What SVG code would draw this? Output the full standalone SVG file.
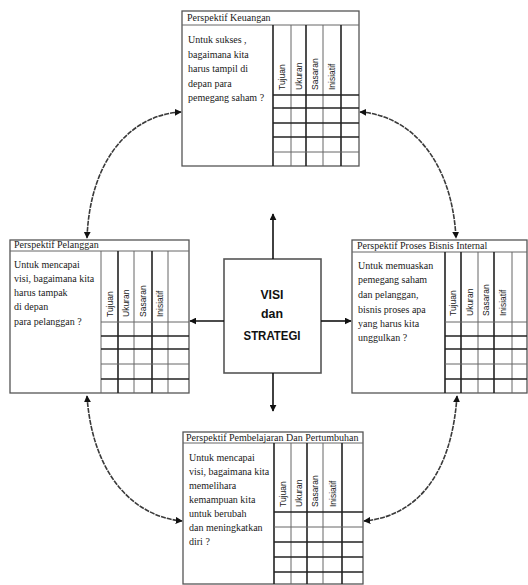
<svg xmlns="http://www.w3.org/2000/svg" width="528" height="585" viewBox="0 0 528 585">
<style>
.box{fill:#fff;stroke:#555;stroke-width:1.3}
.ln{stroke:#666;stroke-width:1}
.lk{stroke:#222;stroke-width:1.6}
.t{font-family:"Liberation Serif","Times New Roman",serif;font-size:10px;fill:#1a1a1a}
.h{font-family:"Liberation Sans",Arial,sans-serif;font-size:8.5px;fill:#1a1a1a}
.c{font-family:"Liberation Sans",Arial,sans-serif;font-weight:bold;font-size:13px;fill:#111;text-anchor:middle}
.cv{fill:none;stroke:#3a3a3a;stroke-width:1.6;stroke-dasharray:5 1;marker-start:url(#ah);marker-end:url(#ah)}
.st{fill:none;stroke:#111;stroke-width:1.6;marker-end:url(#ah)}
</style>
<defs>
<marker id="ah" viewBox="0 0 10 10" refX="9" refY="5" markerWidth="7" markerHeight="7" markerUnits="userSpaceOnUse" orient="auto-start-reverse">
<path d="M0,0 L10,5 L0,10 z" fill="#111"/>
</marker>
</defs>
<rect width="528" height="585" fill="#fff"/>

<g id="keuangan">
<rect class="box" x="182" y="11" width="177" height="155"/>
<line class="ln" x1="182" y1="25" x2="359" y2="25"/>
<text class="t" x="187" y="21">Perspektif Keuangan</text>
<text class="t" x="188" y="43">Untuk sukses ,</text>
<text class="t" x="188" y="57.5">bagaimana kita</text>
<text class="t" x="188" y="72">harus tampil di</text>
<text class="t" x="188" y="86.5">depan para</text>
<text class="t" x="188" y="101">pemegang saham ?</text>
<line class="lk" x1="273" y1="25" x2="273" y2="166"/>
<line class="ln" x1="291" y1="25" x2="291" y2="166"/>
<line class="lk" x1="306" y1="25" x2="306" y2="166"/>
<line class="ln" x1="323" y1="25" x2="323" y2="166"/>
<line class="lk" x1="341" y1="25" x2="341" y2="166"/>
<line class="lk" x1="273" y1="95" x2="359" y2="95"/>
<line class="lk" x1="273" y1="108" x2="359" y2="108"/>
<line class="lk" x1="273" y1="123" x2="359" y2="123"/>
<line class="lk" x1="273" y1="137" x2="359" y2="137"/>
<line class="ln" x1="273" y1="152" x2="359" y2="152"/>
<text class="h" transform="translate(285,90) rotate(-90)">Tujuan</text>
<text class="h" transform="translate(301.5,90) rotate(-90)">Ukuran</text>
<text class="h" transform="translate(317.5,90) rotate(-90)">Sasaran</text>
<text class="h" transform="translate(335,90) rotate(-90)">Inisiatif</text>
</g>

<g id="pelanggan">
<rect class="box" x="10" y="240" width="179" height="153"/>
<line class="ln" x1="10" y1="251" x2="189" y2="251"/>
<text class="t" x="14" y="248">Perspektif Pelanggan</text>
<text class="t" x="14" y="268">Untuk mencapai</text>
<text class="t" x="14" y="282">visi, bagaimana kita</text>
<text class="t" x="14" y="296">harus tampak</text>
<text class="t" x="14" y="310">di depan</text>
<text class="t" x="14" y="325">para pelanggan ?</text>
<line class="ln" x1="101" y1="251" x2="101" y2="393"/>
<line class="lk" x1="118" y1="251" x2="118" y2="393"/>
<line class="ln" x1="134" y1="251" x2="134" y2="393"/>
<line class="lk" x1="152" y1="251" x2="152" y2="393"/>
<line class="ln" x1="168" y1="251" x2="168" y2="393"/>
<line class="ln" x1="101" y1="322" x2="189" y2="322"/>
<line class="lk" x1="101" y1="336" x2="189" y2="336"/>
<line class="lk" x1="101" y1="349" x2="189" y2="349"/>
<line class="ln" x1="101" y1="364" x2="189" y2="364"/>
<line class="lk" x1="101" y1="379" x2="189" y2="379"/>
<text class="h" transform="translate(112.5,317) rotate(-90)">Tujuan</text>
<text class="h" transform="translate(129,317) rotate(-90)">Ukuran</text>
<text class="h" transform="translate(146,317) rotate(-90)">Sasaran</text>
<text class="h" transform="translate(163,317) rotate(-90)">Inisiatif</text>
</g>

<g id="proses">
<rect class="box" x="352" y="240" width="175" height="153"/>
<line class="ln" x1="352" y1="252" x2="527" y2="252"/>
<text class="t" x="357" y="249">Perspektif Proses Bisnis Internal</text>
<text class="t" x="358" y="269">Untuk memuaskan</text>
<text class="t" x="358" y="283">pemegang saham</text>
<text class="t" x="358" y="298">dan pelanggan,</text>
<text class="t" x="358" y="313">bisnis proses apa</text>
<text class="t" x="358" y="327">yang harus kita</text>
<text class="t" x="358" y="341">unggulkan ?</text>
<line class="lk" x1="445" y1="252" x2="445" y2="393"/>
<line class="lk" x1="461" y1="252" x2="461" y2="393"/>
<line class="ln" x1="478" y1="252" x2="478" y2="393"/>
<line class="lk" x1="494" y1="252" x2="494" y2="393"/>
<line class="ln" x1="512" y1="252" x2="512" y2="393"/>
<line class="ln" x1="445" y1="322" x2="527" y2="322"/>
<line class="lk" x1="445" y1="336" x2="527" y2="336"/>
<line class="lk" x1="445" y1="349" x2="527" y2="349"/>
<line class="ln" x1="445" y1="364" x2="527" y2="364"/>
<line class="lk" x1="445" y1="379" x2="527" y2="379"/>
<text class="h" transform="translate(456,316) rotate(-90)">Tujuan</text>
<text class="h" transform="translate(472.5,316) rotate(-90)">Ukuran</text>
<text class="h" transform="translate(489,316) rotate(-90)">Sasaran</text>
<text class="h" transform="translate(506,316) rotate(-90)">Inisiatif</text>
</g>

<g id="pembelajaran">
<rect class="box" x="183" y="432" width="180" height="152"/>
<line class="ln" x1="183" y1="443" x2="363" y2="443"/>
<text class="t" x="186" y="441">Perspektif Pembelajaran Dan Pertumbuhan</text>
<text class="t" x="189" y="461">Untuk mencapai</text>
<text class="t" x="189" y="475">visi, bagaimana kita</text>
<text class="t" x="189" y="489">memelihara</text>
<text class="t" x="189" y="503">kemampuan kita</text>
<text class="t" x="189" y="517">untuk berubah</text>
<text class="t" x="189" y="531">dan meningkatkan</text>
<text class="t" x="189" y="545">diri ?</text>
<line class="lk" x1="274" y1="443" x2="274" y2="584"/>
<line class="ln" x1="291" y1="443" x2="291" y2="584"/>
<line class="lk" x1="307" y1="443" x2="307" y2="584"/>
<line class="ln" x1="323" y1="443" x2="323" y2="584"/>
<line class="lk" x1="342" y1="443" x2="342" y2="584"/>
<line class="lk" x1="274" y1="512" x2="363" y2="512"/>
<line class="ln" x1="274" y1="527" x2="363" y2="527"/>
<line class="lk" x1="274" y1="542" x2="363" y2="542"/>
<line class="lk" x1="274" y1="557" x2="363" y2="557"/>
<line class="lk" x1="274" y1="572" x2="363" y2="572"/>
<text class="h" transform="translate(285.5,507) rotate(-90)">Tujuan</text>
<text class="h" transform="translate(302,507) rotate(-90)">Ukuran</text>
<text class="h" transform="translate(318,507) rotate(-90)">Sasaran</text>
<text class="h" transform="translate(335.5,507) rotate(-90)">Inisiatif</text>
</g>

<g id="visi">
<rect class="box" x="224" y="259" width="97" height="114" style="stroke-width:1.6"/>
<text class="c" x="272" y="299" textLength="23" lengthAdjust="spacingAndGlyphs">VISI</text>
<text class="c" x="272" y="318" textLength="22" lengthAdjust="spacingAndGlyphs">dan</text>
<text class="c" x="272" y="340" textLength="57" lengthAdjust="spacingAndGlyphs">STRATEGI</text>
</g>

<g id="connectors">
<line class="st" x1="273" y1="259" x2="273" y2="214"/>
<line class="st" x1="273" y1="373" x2="273" y2="411"/>
<line class="st" x1="224" y1="321" x2="190" y2="321"/>
<line class="st" x1="321" y1="321" x2="351" y2="321"/>
<path class="cv" d="M181,112 C130,115 90,160 87,238"/>
<path class="cv" d="M360,112 C410,115 452,160 456,238"/>
<path class="cv" d="M87,396 C92,470 130,516 182,521"/>
<path class="cv" d="M457,396 C452,470 420,516 364,521"/>
</g>
</svg>
